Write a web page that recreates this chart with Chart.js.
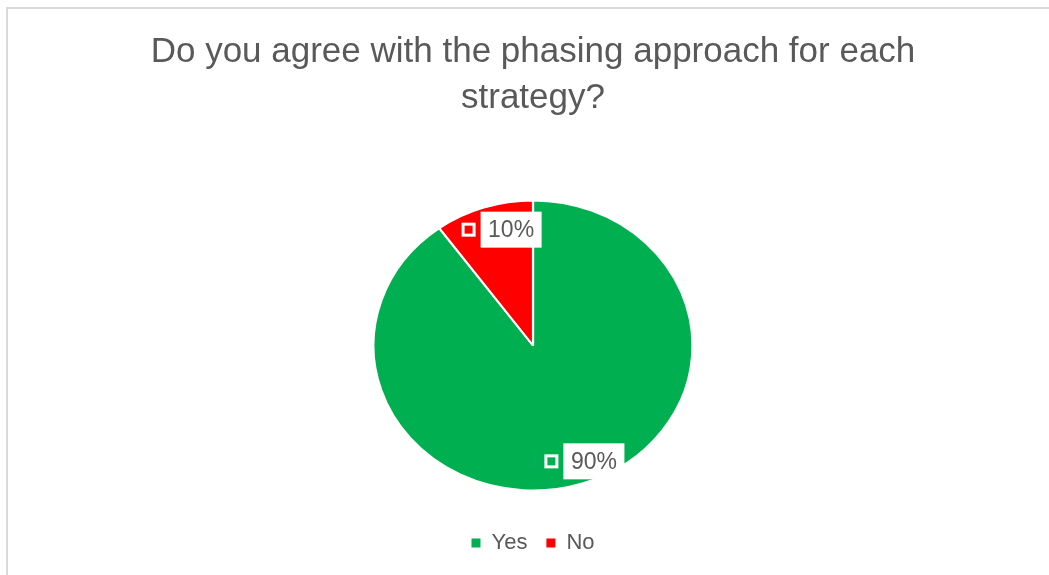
<!DOCTYPE html>
<html>
<head>
<meta charset="utf-8">
<script src="https://cdn.jsdelivr.net/npm/chart.js@4.4.1/dist/chart.umd.min.js"></script>
<style>
    html, body { margin: 0; padding: 0; background: #FFFFFF; overflow: hidden; }
    .wrap { position: relative; width: 1049px; height: 575px; }
    .frame {
        position: absolute; left: 6px; top: 7px; width: 1100px; height: 600px;
        border-left: 2px solid #D9D9D9; border-top: 2px solid #D9D9D9;
        pointer-events: none;
    }
</style>
</head>
<body>
<div class="wrap">
    <canvas id="pieChart" width="1049" height="575"></canvas>
    <div class="frame"></div>
</div>
<script>
// Survey answers
const answers = ['Yes', 'No'];
const percentages = [90, 10];
const sliceColors = ['#00B050', '#FF0000'];
const titleLines = ['Do you agree with the phasing approach for each', 'strategy?'];

const TEXT_GREY = '#595959';
const STRETCH_X = 1.1; // the original pie is slightly wider than tall

// Draw the pie a bit wider (horizontal scale around its centre)
const stretchPlugin = {
    id: 'stretchPie',
    beforeDatasetsDraw(chart) {
        const arc = chart.getDatasetMeta(0).data[0];
        const ctx = chart.ctx;
        ctx.save();
        ctx.translate(arc.x, 0);
        ctx.scale(STRETCH_X, 1);
        ctx.translate(-arc.x, 0);
    },
    afterDatasetsDraw(chart) {
        chart.ctx.restore();
    }
};

// Excel style data labels: legend key + white box with the value
const labelPlugin = {
    id: 'pieLabels',
    afterDatasetsDraw(chart) {
        const ctx = chart.ctx;
        const meta = chart.getDatasetMeta(0);
        const values = chart.data.datasets[0].data;
        ctx.save();
        ctx.font = '23px "Liberation Sans", Arial, sans-serif';
        ctx.textAlign = 'center';
        ctx.textBaseline = 'middle';
        meta.data.forEach((arc, i) => {
            const p = arc.getProps(['x', 'y', 'startAngle', 'endAngle', 'outerRadius'], true);
            const mid = (p.startAngle + p.endAngle) / 2;
            const r = p.outerRadius * 0.84;
            const ax = p.x + Math.cos(mid) * r * STRETCH_X + 10;
            const ay = p.y + Math.sin(mid) * r;

            const text = values[i] + '%';
            const boxW = ctx.measureText(text).width + 15;
            const boxH = 36;
            const key = 14;
            const gap = 5;
            const left = ax - (key + gap + boxW) / 2;

            // legend key
            ctx.fillStyle = '#FFFFFF';
            ctx.fillRect(left, ay - key / 2, key, key);
            ctx.fillStyle = sliceColors[i];
            ctx.fillRect(left + 3, ay - key / 2 + 3, key - 6, key - 6);

            // value box
            const bx = left + key + gap;
            ctx.fillStyle = '#FFFFFF';
            ctx.fillRect(bx, ay - boxH / 2, boxW, boxH);
            ctx.fillStyle = TEXT_GREY;
            ctx.fillText(text, bx + boxW / 2, ay + 1);
        });
        ctx.restore();
    }
};

const ctx = document.getElementById('pieChart').getContext('2d');
new Chart(ctx, {
    type: 'pie',
    data: {
        labels: answers,
        datasets: [{
            data: percentages,
            backgroundColor: sliceColors,
            borderColor: '#FFFFFF',
            borderWidth: 2,
            radius: 145,
            clip: false
        }]
    },
    options: {
        responsive: false,
        animation: false,
        events: [],
        layout: {
            padding: { left: 17, bottom: 11 }
        },
        plugins: {
            title: {
                display: true,
                text: titleLines,
                color: TEXT_GREY,
                font: {
                    family: '"Liberation Sans", Arial, sans-serif',
                    size: 35,
                    weight: 'normal',
                    lineHeight: 46 / 35
                },
                padding: { top: 29, bottom: 57 }
            },
            legend: {
                position: 'bottom',
                labels: {
                    boxWidth: 9,
                    boxHeight: 9,
                    padding: 19,
                    color: TEXT_GREY,
                    font: {
                        family: '"Liberation Sans", Arial, sans-serif',
                        size: 22
                    },
                    generateLabels(chart) {
                        const items = Chart.overrides.pie.plugins.legend.labels.generateLabels(chart);
                        return items.map(item => Object.assign(item, { lineWidth: 0 }));
                    }
                }
            },
            tooltip: { enabled: false }
        }
    },
    plugins: [stretchPlugin, labelPlugin]
});
</script>
</body>
</html>
